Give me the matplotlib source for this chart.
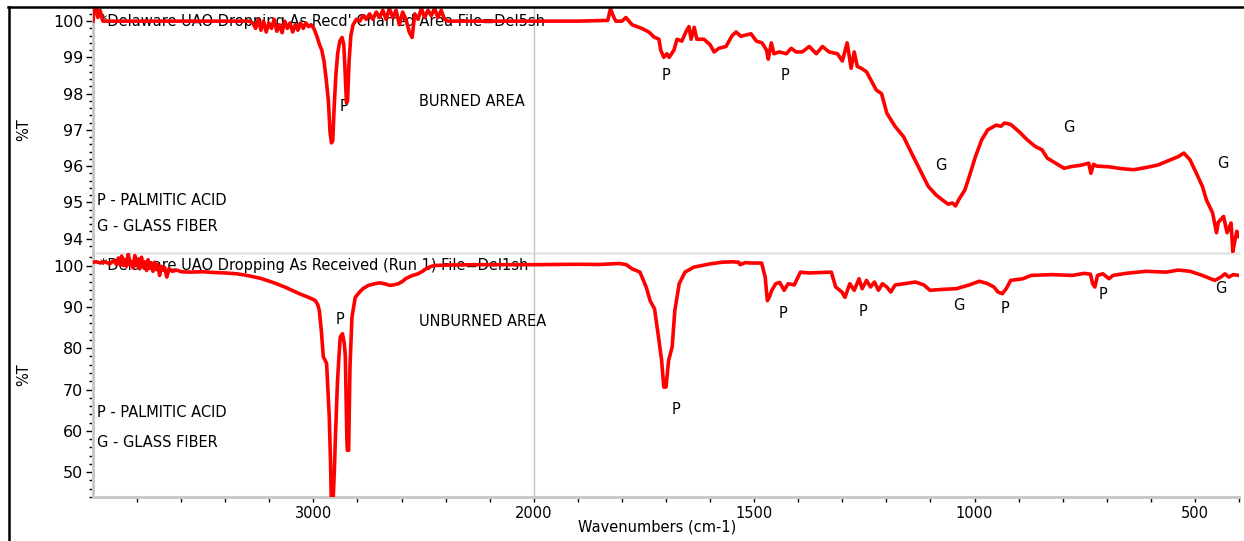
#!/usr/bin/env python3
"""
FTIR spectra: charred (burned) vs as-received (unburned) UAO dropping
"""
import numpy as np
import matplotlib
matplotlib.use('Agg')
import matplotlib.pyplot as plt
from matplotlib.ticker import MultipleLocator, FixedLocator
from matplotlib.lines import Line2D

# ---- data ----
burned_wn = [4000, 3992, 3985, 3978, 3968, 3955, 3800, 3600, 3400, 3290,
             3275, 3262, 3250, 3238, 3226, 3214, 3202, 3190, 3178, 3166, 3154, 3142,
             3130, 3118, 3106, 3094, 3082, 3070, 3058, 3046, 3034, 3022, 3010,
             2998, 2985, 2972, 2962, 2952, 2942, 2932, 2924, 2918, 2912, 2906, 2898,
             2890, 2880, 2870, 2862, 2856, 2850, 2845, 2838, 2830, 2820,
             2805, 2790, 2775, 2760, 2745, 2730, 2715, 2700, 2685, 2670, 2655, 2640,
             2625, 2610, 2595, 2580, 2565, 2552, 2540, 2525, 2510, 2495, 2480, 2465,
             2450, 2435, 2420, 2405, 2390, 2375, 2300, 2100, 2000, 1900, 1832,
             1826, 1820, 1814, 1800, 1791, 1777, 1766, 1755, 1739, 1727, 1716, 1712,
             1705, 1698, 1693, 1682, 1675, 1664, 1655, 1648, 1643, 1636, 1630, 1614,
             1600, 1591, 1580, 1564, 1550, 1541, 1530, 1518, 1507, 1495, 1482, 1472,
             1468, 1461, 1455, 1443, 1427, 1416, 1405, 1391, 1375, 1359, 1345, 1330,
             1311, 1300, 1289, 1280, 1273, 1266, 1257, 1245, 1234, 1223, 1211, 1199,
             1180, 1161, 1143, 1124, 1105, 1087, 1068, 1060, 1050, 1043, 1036, 1022,
             1012, 998, 984, 970, 951, 940, 932, 918, 899, 880, 862, 847, 835, 816,
             797, 779, 760, 741, 736, 730, 723, 695, 667, 639, 611, 584, 556, 538,
             525, 511, 497, 483, 474, 460, 451, 447, 435, 427, 418, 414, 410, 405, 400]
burned_t = [100.0, 100.5, 100.4, 100.1, 100.3, 100.0, 100.0, 100.0, 100.0, 100.0,
            99.95, 99.8, 100.05, 99.75, 100.0, 99.7, 99.95, 99.8, 100.05, 99.72, 99.9, 99.68,
            100.0, 99.8, 99.95, 99.7, 99.9, 99.75, 99.95, 99.8, 99.95, 99.85, 99.9,
            99.8, 99.6, 99.35, 99.2, 98.9, 98.4, 97.8, 96.9, 96.64, 96.7, 97.6, 98.5,
            99.1, 99.45, 99.55, 99.35, 98.6, 97.75, 97.8, 98.9, 99.6, 99.9,
            100.05, 100.0, 100.15, 100.05, 100.2, 100.05, 100.25, 100.1, 100.3, 100.05, 100.35, 100.1,
            100.3, 99.9, 100.25, 100.05, 99.7, 99.55, 100.2, 100.05, 100.35, 100.1, 100.3, 100.15,
            100.35, 100.1, 100.3, 100.05, 100.0, 100.0, 100.0, 100.0, 100.0, 100.0, 100.02,
            100.35, 100.15, 100.0, 100.0, 100.1, 99.9, 99.85, 99.8, 99.7, 99.56, 99.5, 99.2,
            99.0, 99.1, 99.0, 99.2, 99.5, 99.45, 99.7, 99.85, 99.5, 99.83, 99.5, 99.5,
            99.35, 99.15, 99.25, 99.3, 99.6, 99.7, 99.58, 99.62, 99.65, 99.45, 99.4, 99.2,
            98.95, 99.4, 99.1, 99.15, 99.1, 99.25, 99.15, 99.15, 99.3, 99.1, 99.3, 99.15,
            99.1, 98.9, 99.4, 98.7, 99.15, 98.75, 98.7, 98.6, 98.35, 98.1, 98.0, 97.46,
            97.09, 96.81, 96.36, 95.9, 95.44, 95.2, 95.02, 94.95, 94.98, 94.9, 95.07, 95.34,
            95.71, 96.26, 96.72, 97.0, 97.13, 97.1, 97.19, 97.15, 96.95, 96.72, 96.54, 96.45, 96.22, 96.08,
            95.94, 95.99, 96.02, 96.08, 95.8, 96.05, 96.0, 95.98, 95.93, 95.9, 95.96, 96.03, 96.17, 96.26,
            96.36, 96.17, 95.81, 95.44, 95.07, 94.71, 94.16, 94.45, 94.61, 94.16, 94.43, 93.64, 93.9, 94.2, 94.06]

unburned_wn = [4000, 3985, 3965, 3945, 3925, 3905, 3895, 3885, 3878, 3870, 3862, 3855,
               3848, 3840, 3832, 3825, 3818, 3810, 3802, 3795, 3788, 3780, 3772, 3765,
               3757, 3750, 3742, 3735, 3728, 3720, 3712, 3705, 3698, 3690, 3682, 3675,
               3665, 3655, 3640, 3620, 3600, 3561, 3500, 3450, 3400, 3348, 3300, 3240,
               3200, 3168, 3130, 3097, 3060, 3027, 3005, 2991, 2980, 2973, 2964, 2955,
               2948, 2940, 2934, 2928, 2922, 2919, 2910, 2905, 2900, 2891, 2884, 2878,
               2868, 2860, 2855, 2852, 2848, 2846, 2840, 2837, 2834, 2825, 2810, 2790,
               2775, 2750, 2721, 2700, 2677, 2660, 2649, 2630, 2614, 2595, 2579, 2550,
               2525, 2505, 2489, 2470, 2452, 2400, 2274, 2100, 2000, 1900, 1852, 1806,
               1790, 1777, 1759, 1745, 1736, 1726, 1717, 1710, 1705, 1700, 1694, 1686,
               1680, 1670, 1657, 1637, 1600, 1572, 1550, 1535, 1532, 1520, 1507, 1483,
               1475, 1470, 1465, 1460, 1451, 1442, 1432, 1423, 1409, 1395, 1376, 1348,
               1325, 1315, 1301, 1294, 1283, 1273, 1262, 1255, 1245, 1236, 1227, 1218,
               1209, 1199, 1190, 1180, 1161, 1134, 1115, 1101, 1077, 1041, 1012, 989,
               970, 956, 947, 937, 928, 918, 890, 872, 825, 779, 751, 737, 732, 727,
               721, 709, 695, 686, 657, 611, 565, 538, 511, 483, 455, 441, 432, 423, 413, 400]
unburned_t = [100.8, 100.9, 100.6, 100.9, 100.4, 101.2, 100.3, 101.8, 100.2, 102.3, 100.0, 101.5,
              99.8, 102.8, 100.2, 101.0, 99.4, 102.4, 99.9, 101.6, 99.2, 102.0, 99.6, 100.9,
              98.8, 101.4, 99.3, 100.6, 98.6, 100.8, 99.0, 100.2, 97.6, 99.8, 98.9, 99.5,
              97.2, 99.2, 98.6, 98.9, 98.5, 98.4, 98.5, 98.3, 98.2, 98.0, 97.6, 96.9,
              96.2, 95.6, 94.8, 94.0, 93.1, 92.4, 91.9, 91.5, 90.5, 89.1, 84.3, 77.9,
              77.2, 76.3, 70.0, 63.4, 52.0, 44.0, 44.0, 50.0, 58.5, 71.5, 78.0, 82.7,
              83.5, 81.2, 78.0, 69.8, 58.0, 55.3, 55.3, 65.0, 75.4, 87.5, 92.3, 93.6,
              94.4, 95.2, 95.6, 95.8, 95.6, 95.3, 95.2, 95.4, 95.6, 96.2, 96.9, 97.6,
              98.0, 98.6, 99.2, 99.7, 100.0, 100.1, 100.2, 100.2, 100.2, 100.3, 100.24, 100.5,
              100.2, 99.2, 98.4, 94.8, 91.5, 89.5, 82.7, 77.1, 70.6, 70.6, 77.1, 80.3,
              89.1, 95.6, 98.4, 99.6, 100.4, 100.8, 100.9, 100.8, 100.2, 100.7, 100.6, 100.6,
              97.2, 91.5, 92.5, 94.0, 95.6, 95.9, 94.0, 95.6, 95.3, 98.4, 98.2, 98.3,
              98.4, 94.8, 93.6, 92.3, 95.6, 94.0, 96.8, 94.4, 96.4, 94.8, 96.0, 94.0,
              95.6, 94.8, 93.6, 95.3, 95.6, 96.0, 95.3, 94.0, 94.2, 94.4, 95.3, 96.2,
              95.6, 94.8, 93.6, 93.2, 94.4, 96.4, 96.8, 97.6, 97.8, 97.6, 98.1, 97.9, 95.6, 94.8,
              97.6, 98.0, 96.8, 97.6, 98.1, 98.6, 98.4, 98.9, 98.6, 97.6, 96.4, 97.2, 98.0, 97.2, 97.8, 97.6]

x_major = [3000, 2000, 1500, 1000, 500]
x_minor = list(range(3800, 2000, -200)) + [w for w in range(1900, 399, -100) if w not in (1500, 1000, 500)]
top_yticks = [94, 95, 96, 97, 98, 99, 100]
bot_yticks = [50, 60, 70, 80, 90, 100]

top_title = "*Delaware UAO Dropping As Recd' Charred Area File=Del5sh"
bot_title = "*Delaware UAO Dropping As Received (Run 1) File=Del1sh"


def fwd(x):
    # above 2000 cm-1 the axis is drawn at half scale
    x = np.asarray(x, dtype=float)
    return np.where(x > 2000, 2000 + (x - 2000) / 2, x)


def inv(x):
    x = np.asarray(x, dtype=float)
    return np.where(x > 2000, 2000 + (x - 2000) * 2, x)


W, H = 1244, 541
fig = plt.figure(figsize=(W / 100, H / 100), dpi=100)
plt.rcParams['font.family'] = ['DejaVu Sans']

left, right = 93, 1239
y_top, y_mid, y_bot = 7, 252.7, 497
ax_top = fig.add_axes([left / W, 1 - y_mid / H, (right - left) / W, (y_mid - y_top) / H])
ax_bot = fig.add_axes([left / W, 1 - y_bot / H, (right - left) / W, (y_bot - y_mid) / H])

spine_gray = '#c8c8c8'
for ax in (ax_top, ax_bot):
    ax.set_xscale('function', functions=(fwd, inv))
    ax.set_xlim(4000, 400)
    ax.xaxis.set_major_locator(FixedLocator(x_major))
    ax.xaxis.set_minor_locator(FixedLocator(x_minor))
    ax.axvline(2000, color='#c4c4c4', lw=1, zorder=0)
    ax.spines['right'].set_visible(False)
    ax.spines['top'].set_visible(False)
    ax.spines['left'].set_color(spine_gray)
    ax.spines['left'].set_linewidth(2.2)
    ax.tick_params(axis='y', which='major', length=5, width=1, color='black',
                   direction='out', labelsize=11.5, pad=2)
    ax.tick_params(axis='y', which='minor', length=3, width=1, color='black', direction='out')
    ax.set_ylabel('%T', fontsize=10.5)
    ax.yaxis.set_label_coords(-0.054, 0.5)
    ax.patch.set_alpha(0)

ax_top.plot(burned_wn, burned_t, color='red', lw=2.6, zorder=3)
ax_top.set_ylim(93.61, 100.39)
ax_top.set_yticks(top_yticks)
ax_top.yaxis.set_minor_locator(MultipleLocator(0.2))
ax_top.tick_params(axis='x', which='both', bottom=False, labelbottom=False)
ax_top.spines['bottom'].set_color('#e6e6e6')
ax_top.spines['bottom'].set_linewidth(2)

ax_bot.plot(unburned_wn, unburned_t, color='red', lw=2.6, zorder=3)
ax_bot.set_ylim(44, 103.1)
ax_bot.set_yticks(bot_yticks)
ax_bot.yaxis.set_minor_locator(MultipleLocator(2))
ax_bot.spines['bottom'].set_color(spine_gray)
ax_bot.spines['bottom'].set_linewidth(2.2)
ax_bot.tick_params(axis='x', which='both', length=3.5, width=1, color='black',
                   direction='out', labelsize=10.5, pad=3)

# annotations
fs = 10.5
txt = dict(fontsize=fs, zorder=1, va='center')
ax_top.text(3968, 99.98, top_title, ha='left', **txt)
ax_top.text(2860, 97.64, 'P', ha='center', **txt)
ax_top.text(2520, 97.79, 'BURNED AREA', ha='left', **txt)
ax_top.text(3982, 95.04, 'P - PALMITIC ACID', ha='left', **txt)
ax_top.text(3982, 94.32, 'G - GLASS FIBER', ha='left', **txt)
for wn, t, s in [(1700, 98.49, 'P'), (1431, 98.49, 'P'), (1077, 96.01, 'G'),
                 (787, 97.07, 'G'), (436, 96.06, 'G')]:
    ax_top.text(wn, t, s, ha='center', **txt)

ax_bot.text(3968, 100.0, bot_title, ha='left', **txt)
ax_bot.text(2878, 86.96, 'P', ha='center', **txt)
ax_bot.text(2520, 86.47, 'UNBURNED AREA', ha='left', **txt)
ax_bot.text(3982, 64.4, 'P - PALMITIC ACID', ha='left', **txt)
ax_bot.text(3982, 57.2, 'G - GLASS FIBER', ha='left', **txt)
for wn, t, s in [(1677, 65.1, 'P'), (1434, 88.3, 'P'), (1253, 88.9, 'P'),
                 (1035, 90.3, 'G'), (930, 89.5, 'P'), (709, 93.0, 'P'), (442, 94.4, 'G')]:
    ax_bot.text(wn, t, s, ha='center', **txt)

fig.text(657 / W, 1 - 527 / H, 'Wavenumbers (cm-1)', ha='center', va='center', fontsize=10.5)

# outer frame (top and left edges of the original figure box)
fig.add_artist(Line2D([8 / W, 1], [1 - 7 / H, 1 - 7 / H], color='black', lw=1.8,
                      transform=fig.transFigure))
fig.add_artist(Line2D([8.5 / W, 8.5 / W], [0, 1 - 7 / H], color='black', lw=1.8,
                      transform=fig.transFigure))

fig.savefig('out.png', dpi=100)
